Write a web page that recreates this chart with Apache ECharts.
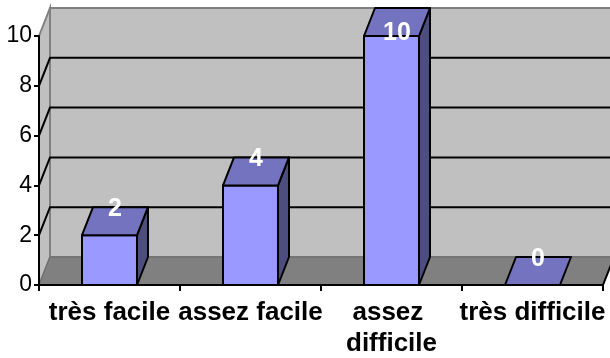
<!DOCTYPE html>
<html><head><meta charset="utf-8">
<script src="https://cdn.jsdelivr.net/npm/echarts@6/dist/echarts.min.js"></script>
<style>html,body{margin:0;padding:0;background:#fff}#c{width:610px;height:358px}</style>
</head><body><div id="c"></div>
<script>
const categories = ['très facile', 'assez facile', 'assez difficile', 'très difficile'];
const values = [2, 4, 10, 0];
const yTicks = [0, 2, 4, 6, 8, 10];

const DX = 11, DY = -28;
const FONT = '"Liberation Sans", Arial, sans-serif';
const chart = echarts.init(document.getElementById('c'), null, {renderer: 'canvas'});

function renderFrame(params, api) {
  const cs = params.coordSys;
  const x0 = cs.x, x1 = cs.x + cs.width;
  const yb = api.coord([0, yTicks[0]])[1];
  const yt = api.coord([0, yTicks[yTicks.length - 1]])[1];
  const children = [];
  children.push({type: 'polygon', shape: {points: [[x0 + DX, yt + DY], [x1 + DX, yt + DY], [x1 + DX, yb + DY], [x0 + DX, yb + DY]]},
    style: {fill: '#C0C0C0', stroke: '#808080', lineWidth: 2}});
  children.push({type: 'polygon', shape: {points: [[x0, yt], [x0 + DX, yt + DY], [x0 + DX, yb + DY], [x0, yb]]},
    style: {fill: '#C0C0C0', stroke: '#808080', lineWidth: 2}});
  yTicks.slice(1, -1).forEach(v => {
    const y = api.coord([0, v])[1];
    children.push({type: 'polyline', shape: {points: [[x0, y], [x0 + DX, y + DY], [x1 + DX, y + DY]]},
      style: {fill: null, stroke: '#000', lineWidth: 2}});
  });
  children.push({type: 'polygon', shape: {points: [[x0, yb], [x1, yb], [x1 + DX, yb + DY], [x0 + DX, yb + DY]]},
    style: {fill: '#808080', stroke: '#6a6a6a', lineWidth: 1}});
  children.push({type: 'line', shape: {x1: x1, y1: yb, x2: x1 + DX, y2: yb + DY}, style: {stroke: '#000', lineWidth: 2}});
  return {type: 'group', children};
}

function renderBar(params, api) {
  const cat = api.value(0), v = api.value(1);
  const top = api.coord([cat, v]);
  const base = api.coord([cat, 0]);
  const w = api.size([1, 0])[0] * 0.39;
  const l = top[0] - w / 2, r = top[0] + w / 2;
  const yT = top[1], yB = base[1];
  const st = {stroke: '#000', lineWidth: 2, lineJoin: 'round'};
  const children = [];
  if (yB - yT > 0.5) {
    children.push({type: 'rect', shape: {x: l, y: yT, width: w, height: yB - yT}, style: Object.assign({fill: '#9999FF'}, st)});
    children.push({type: 'polygon', shape: {points: [[r, yT], [r + DX, yT + DY], [r + DX, yB + DY], [r, yB]]}, style: Object.assign({fill: '#4D4D80'}, st)});
  }
  children.push({type: 'polygon', shape: {points: [[l, yT], [r, yT], [r + DX, yT + DY], [l + DX, yT + DY]]}, style: Object.assign({fill: '#7373BF'}, st)});
  const ly = Math.max(yT + DY + 2, params.coordSys.y - 3);
  children.push({type: 'text', z2: 10, style: {text: String(v), x: top[0] + DX / 2, y: ly, fill: '#fff',
    font: 'bold 25px ' + FONT, align: 'center', verticalAlign: 'middle', textAlign: 'center', textVerticalAlign: 'middle'}});
  return {type: 'group', children};
}

chart.setOption({
  animation: false,
  grid: {left: 39, right: 7, top: 36, bottom: 73, containLabel: false, outerBoundsMode: 'none'},
  xAxis: {
    type: 'category', data: categories, z: 10,
    axisLine: {lineStyle: {color: '#000', width: 2}},
    axisTick: {show: true, interval: 0, length: 6, lineStyle: {color: '#000', width: 2}},
    axisLabel: {interval: 0, color: '#000', fontFamily: FONT, fontWeight: 'bold', fontSize: 26,
      margin: 12, width: 160, overflow: 'break', lineHeight: 31},
    splitLine: {show: false}
  },
  yAxis: {
    type: 'value', min: 0, max: 10, interval: 2, z: 10,
    axisLine: {show: true, lineStyle: {color: '#000', width: 2}},
    axisTick: {show: true, length: 5, lineStyle: {color: '#000', width: 2}},
    axisLabel: {color: '#000', fontFamily: FONT, fontSize: 23, margin: 7},
    splitLine: {show: false}
  },
  series: [
    {type: 'custom', renderItem: renderFrame, data: [[0, 0]], z: 1, silent: true},
    {type: 'custom', renderItem: renderBar, data: values.map((v, i) => [i, v]), z: 3}
  ]
});
</script></body></html>
